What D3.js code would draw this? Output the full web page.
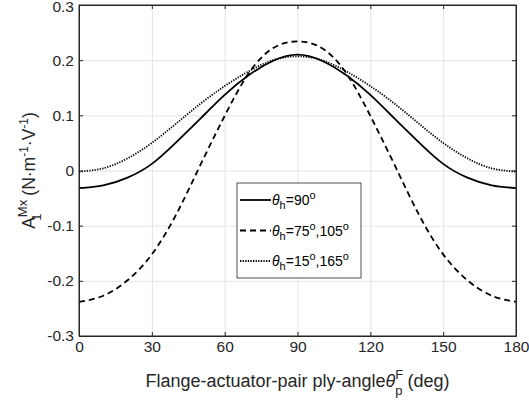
<!DOCTYPE html>
<html lang="en">
<head>
<meta charset="UTF-8">
<script src="https://d3js.org/d3.v7.min.js"></script>
<style>
  body { margin: 0; background: #fff; }
  svg { font-family: "Liberation Sans", Arial, Helvetica, sans-serif; }
  .tick text { fill: #262626; font-size: 15.5px; }
  .grid line { stroke: #e3e3e3; }
  .grid path { display: none; }
</style>
</head>
<body>
<div id="chart"></div>
<script>
// ply angle (deg)
const angles = [0, 10, 20, 30, 40, 50, 60, 70, 80, 90, 100, 110, 120, 130, 140, 150, 160, 170, 180];
// theta_h = 90
const solid90 = [-0.032, -0.027, -0.013, 0.012, 0.051, 0.094, 0.137, 0.173, 0.199, 0.210,
                 0.199, 0.173, 0.137, 0.094, 0.051, 0.012, -0.013, -0.027, -0.032];
// theta_h = 75,105
const dashed75 = [-0.238, -0.227, -0.199, -0.152, -0.080, 0.010, 0.099, 0.177, 0.222, 0.234,
                  0.222, 0.177, 0.099, 0.010, -0.080, -0.152, -0.199, -0.227, -0.238];
// theta_h = 15,165
const dotted15 = [-0.002, 0.004, 0.022, 0.050, 0.085, 0.121, 0.153, 0.180, 0.200, 0.207,
                  0.200, 0.180, 0.153, 0.121, 0.085, 0.050, 0.022, 0.004, -0.002];

const xTicks = [0, 30, 60, 90, 120, 150, 180];
const yTicks = [-0.3, -0.2, -0.1, 0, 0.1, 0.2, 0.3];

const W = 529, H = 405;
const margin = {top: 5, right: 13, bottom: 69, left: 79};
const width = W - margin.left - margin.right;
const height = H - margin.top - margin.bottom;

const svg = d3.select("#chart").append("svg")
    .attr("width", W)
    .attr("height", H);

const g = svg.append("g")
    .attr("transform", `translate(${margin.left},${margin.top})`);

const x = d3.scaleLinear().domain([0, 180]).range([0, width]);
const y = d3.scaleLinear().domain([-0.3, 0.3]).range([height, 0]);

// grid
g.append("g").attr("class", "grid")
    .attr("transform", `translate(0,${height})`)
    .call(d3.axisBottom(x).tickValues(xTicks).tickSize(-height).tickFormat(""));
g.append("g").attr("class", "grid")
    .call(d3.axisLeft(y).tickValues(yTicks).tickSize(-width).tickFormat(""));

const fmtY = d => d === 0 ? "0" : d3.format(".1f")(d).replace("−", "-");

// axes with inward ticks
g.append("g")
    .attr("transform", `translate(0,${height})`)
    .call(d3.axisBottom(x).tickValues(xTicks).tickSizeInner(-4).tickSizeOuter(0).tickPadding(5));
const yAxis = g.append("g")
    .call(d3.axisLeft(y).tickValues(yTicks).tickFormat(fmtY).tickSizeInner(-4).tickSizeOuter(0).tickPadding(5));
// keep the top label inside the page
yAxis.selectAll(".tick text").filter(d => d === 0.3).attr("dy", "0.42em");
g.append("g")
    .call(d3.axisTop(x).tickValues(xTicks).tickSizeInner(-4).tickSizeOuter(0).tickFormat(""));
g.append("g")
    .attr("transform", `translate(${width},0)`)
    .call(d3.axisRight(y).tickValues(yTicks).tickSizeInner(-4).tickSizeOuter(0).tickFormat(""));
g.selectAll(".domain, .tick line").attr("stroke", "#262626");

// curves
const series = [
    {values: solid90, dash: null},
    {values: dashed75, dash: "6,4"},
    {values: dotted15, dash: "1.3,1.3"}
];
const line = d3.line()
    .x(d => x(d[0]))
    .y(d => y(d[1]))
    .curve(d3.curveNatural);

g.selectAll(".series")
    .data(series)
    .enter().append("path")
    .attr("class", "series")
    .attr("fill", "none")
    .attr("stroke", "#000")
    .attr("stroke-width", 1.8)
    .attr("stroke-dasharray", d => d.dash)
    .attr("d", d => line(angles.map((a, i) => [a, d.values[i]])));

// box outline
g.append("rect")
    .attr("width", width).attr("height", height)
    .attr("fill", "none").attr("stroke", "#262626").attr("stroke-width", 1);

// legend
const leg = svg.append("g").attr("transform", "translate(237,183)");
leg.append("rect")
    .attr("width", 124).attr("height", 95)
    .attr("fill", "#fff").attr("stroke", "#262626").attr("stroke-width", 0.8);

const legItems = [
    {dash: null, parts: ["90"]},
    {dash: "6,4", parts: ["75", ",105"]},
    {dash: "1.3,1.3", parts: ["15", ",165"]}
];
const rows = leg.selectAll(".leg")
    .data(legItems)
    .enter().append("g")
    .attr("transform", (d, i) => `translate(0,${17 + i * 30.5})`);

rows.append("line")
    .attr("x1", 3).attr("x2", 34)
    .attr("stroke", "#000").attr("stroke-width", 1.8)
    .attr("stroke-dasharray", d => d.dash);

rows.each(function(d) {
    const t = d3.select(this).append("text")
        .attr("x", 35).attr("y", 5)
        .attr("font-size", 14).attr("fill", "#000");
    t.append("tspan").attr("font-style", "italic").text("\u03b8");
    t.append("tspan").attr("font-size", 11).attr("dy", 4).text("h");
    t.append("tspan").attr("dy", -4).text("=" + d.parts[0]);
    t.append("tspan").attr("font-size", 11).attr("dy", -6).text("o");
    if (d.parts.length > 1) {
        t.append("tspan").attr("dy", 6).text(d.parts[1]);
        t.append("tspan").attr("font-size", 11).attr("dy", -6).text("o");
    }
});

// x label
const xl = svg.append("text")
    .attr("x", margin.left + width / 2).attr("y", 387)
    .attr("text-anchor", "middle")
    .attr("font-size", 18).attr("fill", "#262626");
xl.append("tspan").text("Flange-actuator-pair ply-angle");
xl.append("tspan").attr("font-style", "italic").text("\u03b8");
xl.append("tspan").attr("font-size", 13).attr("dy", -8).text("F");
xl.append("tspan").attr("font-size", 13).attr("dx", -8).attr("dy", 16).text("p");
xl.append("tspan").attr("dy", -8).text(" (deg)");

// y label
const yl = svg.append("text")
    .attr("transform", `translate(35,${margin.top + height / 2}) rotate(-90)`)
    .attr("text-anchor", "middle")
    .attr("font-size", 17.5).attr("fill", "#262626");
yl.append("tspan").text("A");
yl.append("tspan").attr("font-size", 13).attr("dy", -8).text("Mx");
yl.append("tspan").attr("font-size", 13).attr("dx", -21).attr("dy", 14).text("1");
yl.append("tspan").attr("dx", 13).attr("dy", -6).text(" (N\u00b7m");
yl.append("tspan").attr("font-size", 12).attr("dy", -7).text("-1");
yl.append("tspan").attr("dy", 7).text("\u00b7V");
yl.append("tspan").attr("font-size", 12).attr("dy", -7).text("-1");
yl.append("tspan").attr("dy", 7).text(")");
</script>
</body>
</html>
